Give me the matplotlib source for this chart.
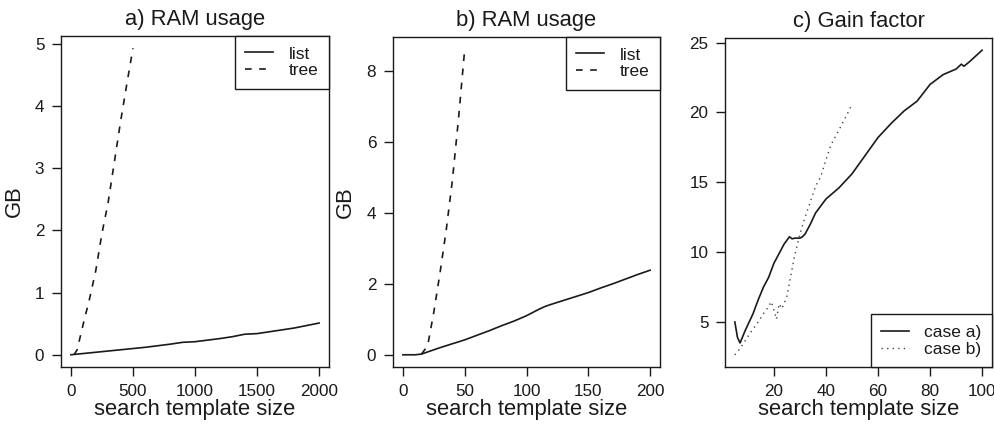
import numpy as np
import matplotlib
matplotlib.use("Agg")
import matplotlib.pyplot as plt

plt.rcParams['font.family'] = ['Liberation Sans', 'DejaVu Sans']

# a) RAM usage, template size up to 2000
a_list_x = [0, 100, 200, 300, 400, 500, 600, 700, 800, 900, 1000, 1100, 1200, 1300, 1400, 1500, 1600, 1700, 1800, 1900, 2000]
a_list_y = [0.0, 0.02, 0.04, 0.06, 0.08, 0.10, 0.12, 0.145, 0.17, 0.20, 0.21, 0.235, 0.26, 0.29, 0.33, 0.34, 0.37, 0.40, 0.43, 0.47, 0.51]
a_tree_x = [25, 50, 100, 150, 200, 250, 300, 350, 400, 450, 500]
a_tree_y = [0.0, 0.08, 0.5, 0.9, 1.35, 1.95, 2.45, 3.1, 3.75, 4.35, 4.93]

# b) RAM usage, template size up to 200
b_list_x = [0, 5, 10, 15, 20, 30, 40, 50, 60, 70, 80, 90, 100, 110, 115, 120, 130, 140, 150, 160, 170, 180, 190, 200]
b_list_y = [0.0, 0.0, 0.0, 0.02, 0.08, 0.2, 0.31, 0.42, 0.55, 0.68, 0.82, 0.95, 1.1, 1.28, 1.36, 1.42, 1.53, 1.64, 1.75, 1.88, 2.0, 2.13, 2.26, 2.38]
b_tree_x = [15, 20, 25, 30, 35, 40, 45, 50]
b_tree_y = [0.02, 0.25, 1.2, 2.3, 3.5, 4.9, 6.65, 8.6]

# c) Gain factor
c_a_x = [5, 6, 7, 8, 9, 10, 12, 14, 16, 18, 20, 22, 24, 26, 27, 28, 30, 31, 32, 34, 36, 38, 40, 45, 50, 55, 60, 65, 70, 75, 80, 85, 90, 92, 93, 95, 100]
c_a_y = [5.0, 3.9, 3.5, 3.95, 4.4, 4.8, 5.6, 6.6, 7.5, 8.2, 9.2, 9.9, 10.6, 11.1, 10.95, 11.0, 11.0, 11.1, 11.3, 12.0, 12.8, 13.3, 13.8, 14.6, 15.6, 16.9, 18.2, 19.2, 20.1, 20.8, 22.0, 22.7, 23.1, 23.45, 23.3, 23.6, 24.45]
c_b_x = [5, 7, 10, 12, 14, 16, 18, 19, 20, 21, 22, 23, 24, 25, 26, 27, 28, 29, 30, 32, 34, 36, 38, 40, 42, 44, 46, 48, 50]
c_b_y = [2.65, 3.1, 3.95, 4.5, 5.0, 5.6, 6.1, 6.45, 5.85, 5.2, 6.3, 5.95, 6.35, 6.85, 7.8, 8.8, 9.8, 10.5, 11.3, 12.5, 13.6, 14.7, 15.4, 16.6, 17.7, 18.4, 19.1, 19.8, 20.6]

ink = '#1a1a1a'
tick_fs = 12.3
lab_fs = 15.8
leg_fs = 12.5
dash = (0, (4, 4.5))

fig = plt.figure(figsize=(9.95, 4.29), dpi=100)
ax_a = fig.add_axes([0.0613, 0.1445, 0.2694, 0.7716])
ax_b = fig.add_axes([0.3950, 0.1445, 0.2683, 0.7693])
ax_c = fig.add_axes([0.7286, 0.1445, 0.2684, 0.7669])


def r_lim(vals):
    lo, hi = min(vals), max(vals)
    d = (hi - lo) * 0.04
    return lo - d, hi + d


def style(ax, title):
    for s in ax.spines.values():
        s.set_linewidth(1.0)
        s.set_color(ink)
    ax.tick_params(direction='out', length=6.5, width=1.0, color=ink,
                   labelsize=tick_fs, labelcolor=ink, pad=5.5)
    ax.set_title(title, fontsize=lab_fs, color=ink, pad=8)
    ax.set_xlabel('search template size', fontsize=lab_fs, color=ink, labelpad=0.5)


def legend(ax, loc):
    lg = ax.legend(loc=loc, borderaxespad=0, fancybox=False, frameon=True,
                   edgecolor=ink, framealpha=1, fontsize=leg_fs,
                   handlelength=1.6, handletextpad=0.9, borderpad=0.6,
                   labelspacing=0.1)
    lg.get_frame().set_linewidth(1.0)
    for t in lg.get_texts():
        t.set_color(ink)


# panel a
ax = ax_a
ax.plot(a_list_x, a_list_y, color=ink, lw=1.2, label='list')
ax.plot(a_tree_x, a_tree_y, color=ink, lw=1.2, ls=dash, label='tree')
ax.set_xlim(*r_lim(a_list_x))
ax.set_ylim(*r_lim(a_list_y + a_tree_y))
ax.set_xticks([0, 500, 1000, 1500, 2000])
ax.set_yticks([0, 1, 2, 3, 4, 5])
style(ax, 'a) RAM usage')
ax.set_ylabel('GB', fontsize=lab_fs, color=ink)
ax.yaxis.set_label_coords(-0.136, 0.5)
legend(ax, 'upper right')

# panel b
ax = ax_b
ax.plot(b_list_x, b_list_y, color=ink, lw=1.2, label='list')
ax.plot(b_tree_x, b_tree_y, color=ink, lw=1.2, ls=dash, label='tree')
ax.set_xlim(*r_lim(b_list_x))
ax.set_ylim(*r_lim(b_list_y + b_tree_y))
ax.set_xticks([0, 50, 100, 150, 200])
ax.set_yticks([0, 2, 4, 6, 8])
style(ax, 'b) RAM usage')
ax.set_ylabel('GB', fontsize=lab_fs, color=ink)
ax.yaxis.set_label_coords(-0.138, 0.5)
legend(ax, 'upper right')

# panel c
ax = ax_c
ax.plot(c_a_x, c_a_y, color=ink, lw=1.2, label='case a)')
ax.plot(c_b_x, c_b_y, color='#444444', lw=1.0, ls=(0, (1, 3)), label='case b)')
ax.set_xlim(*r_lim(c_a_x + c_b_x))
ax.set_ylim(*r_lim(c_a_y + c_b_y))
ax.set_xticks([20, 40, 60, 80, 100])
ax.set_yticks([5, 10, 15, 20, 25])
style(ax, 'c) Gain factor')
legend(ax, 'lower right')

fig.savefig('out.png', dpi=100)
